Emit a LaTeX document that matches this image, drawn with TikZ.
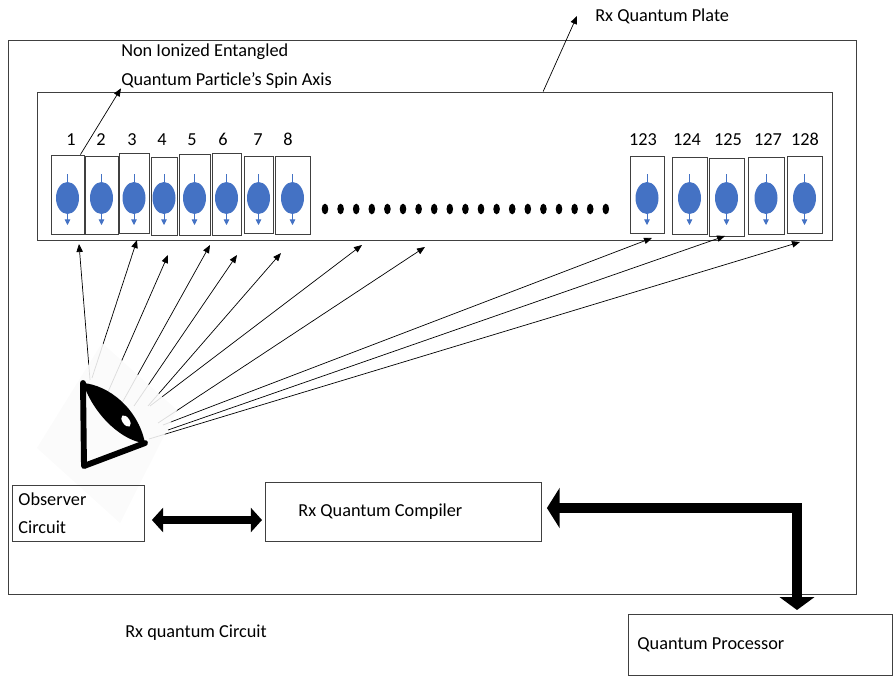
\documentclass[tikz,border=0pt]{standalone}
\usepackage{fontspec}
\setmainfont{Carlito}
\usetikzlibrary{arrows.meta,calc}
\definecolor{spin blue}{RGB}{68,114,196}
\definecolor{frame gray}{RGB}{64,64,64}

\begin{document}
\begin{tikzpicture}[x=0.025cm, y=-0.025cm,
		font=\fontsize{13}{20}\selectfont,
		box/.style={draw=frame gray, line width=0.6pt},
		cellbox/.style={box, inner sep=0pt},
		ray/.style={line width=0.5pt, -{Triangle[length=2mm,width=1.6mm]}},
		spinaxis/.style={spin blue, line width=0.5pt, -{Triangle[length=1.4mm,width=1.4mm]}},
		fatarrow/.style={line width=7pt, {Triangle[length=0.32cm,width=1cm]}-{Triangle[length=0.32cm,width=0.85cm]}},
		dblarrow/.style={line width=5pt, {Triangle[length=0.28cm,width=0.6cm]}-{Triangle[length=0.28cm,width=0.6cm]}}]
			\useasboundingbox (0,0) rectangle (894,677);
			% outer frame
			\draw[box] (8,40) rectangle (856,594);
			% plate
			\node[box, minimum width=19.85cm, minimum height=3.7cm, inner sep=0pt] (plate) at (435,166) {};
			% qubit cells
			\foreach \n/\xa/\xb/\ya/\yb/\lx in {1/51/84/155/234/71, 2/85/118/156/234/101,
					3/119/149/153/233/132, 4/151/177/157/235/162, 5/179/210/154/235/192,
					6/212/241/153/235/223, 7/244/273/156/233/258, 8/275/310/156/234/288,
					123/630/664/156/233/643, 124/672/707/157/234/687, 125/709/744/158/236/728,
					127/748/784/157/234/768, 128/787/822/156/233/805} {
				\node[cellbox, minimum width={(\xb-\xa)*0.025cm}, minimum height={(\yb-\ya)*0.025cm}]
					(c\n) at ({(\xa+\xb)/2},{(\ya+\yb)/2}) {};
				\node[anchor=base] (n\n) at (\lx,145) {\n};
				\draw[spinaxis] ({(\xa+\xb)/2},174) -- ({(\xa+\xb)/2},225);
				\fill[spin blue] ({(\xa+\xb)/2},198) ellipse [x radius=11.5, y radius=16];
			}
			% dots
			\foreach \k in {0,...,18}
				\fill ({325+\k*15.6},209) ellipse [x radius=3.3, y radius=5.3];
			% rays from the observer
			\foreach \i/\sx/\sy/\tx/\ty in {1/90/380/79/244, 2/92/378/137/240, 3/108/392/168/255,
					4/122/403/210/245, 5/134/406/237/255, 6/148/406/281/253, 7/150/406/362/245,
					8/158/423/425/247, 9/163/425/652/238, 10/168/430/725/236, 11/149/439/800/242} {
				\coordinate (eye\i) at (\sx,\sy);
				\coordinate (aim\i) at (\tx,\ty);
				\draw[ray] (eye\i) -- (aim\i);
			}
			% eye
			\fill[white!98!black, opacity=0.88] (102,343) -- (177,410) -- (120,523) -- (37,448) -- cycle;
			\draw[line width=4.2pt, line join=round, line cap=round] (83,383) -- (84,466) -- (145,443);
			\fill (83,383) .. controls (108,385) and (138,408) .. (145,443)
				.. controls (125,442) and (95,418) .. (83,383);
			\fill[white, rotate around={35:(126,421)}] (126,421) ellipse [x radius=3.5, y radius=6.5];
			% labels
			\node[anchor=north west, align=flush left, inner sep=0pt] (spinlbl) at (121,44)
				{Non Ionized Entangled\\Quantum Particle’s Spin Axis};
			\draw[ray] ($(c1.north east)+(-4,0)$) -- (spinlbl.south west);
			\node[anchor=west, inner xsep=0.45cm, inner ysep=0pt] (platelbl) at (577,16) {Rx Quantum Plate};
			\draw[ray] ($(plate.north west)!0.636!(plate.north east)$) -- (platelbl.west);
			\node[anchor=west, inner sep=0pt] (circlbl) at (125,633) {Rx quantum Circuit};
			% circuit blocks
			\node[box, anchor=north west, minimum height=1.4cm, text width=3cm, inner xsep=0.15cm, align=flush left]
				(obs) at (12,485) {Observer\\Circuit};
			\node[box, anchor=north west, minimum height=1.475cm, text width=5.25cm, inner xsep=0.825cm, align=flush left]
				(comp) at (265,482) {Rx Quantum Compiler};
			\node[box, anchor=north west, minimum height=1.525cm, text width=6.15cm, inner xsep=0.225cm, align=flush left]
				(proc) at (628,614) {Quantum Processor};
			\coordinate (link) at (200,520);
			\draw[dblarrow, shorten <=0.175cm, shorten >=0.075cm] (obs.east |- link) -- (comp.west |- link);
			\coordinate (bend) at (797,508);
			\draw[fatarrow, shorten <=0.125cm, shorten >=0.1cm] (comp.east |- bend) -- (bend) -- (bend |- proc.north);
		\end{tikzpicture}
\end{document}
